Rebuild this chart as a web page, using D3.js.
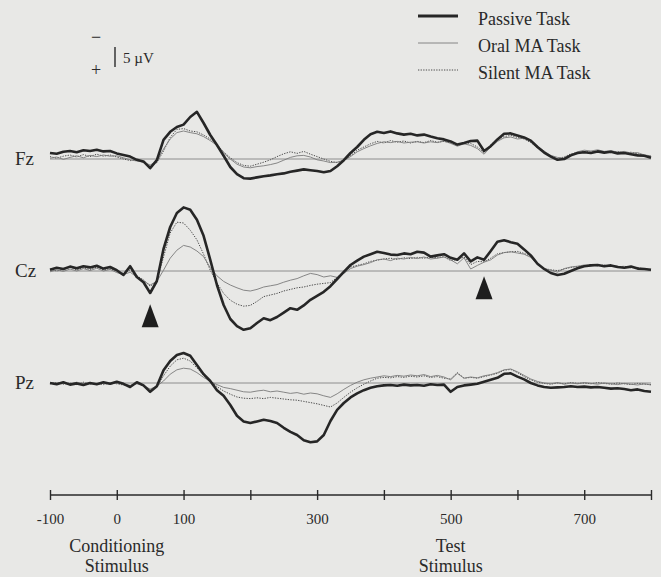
<!DOCTYPE html>
<html>
<head>
<meta charset="utf-8">
<script src="https://cdn.jsdelivr.net/npm/d3@7"></script>
<style>
  body { margin: 0; background: #e8e8e6; }
  svg text { font-family: "Liberation Serif", "DejaVu Serif", serif; fill: #2a2a2a; }
</style>
</head>
<body>
<div id="chart"></div>
<script>
// ERP waveforms, microvolts, sampled every 10 ms from -100 to 800 (negative is up)
let channels = ['Fz', 'Cz', 'Pz']
let conditions = ['Passive Task', 'Oral MA Task', 'Silent MA Task']

let fzPassive = [
  -1.5, -1.3, -1.8, -2.0, -1.7, -2.2, -2.0, -2.3, -1.9, -2.0,
  -1.4, -1.0, -0.6, 0.2, 0.6, 2.3, 0.3, -4.8, -6.8, -8.0,
  -8.6, -10.5, -11.8, -9.0, -6.0, -3.5, -0.8, 2.0, 3.8, 4.8,
  4.9, 4.6, 4.3, 4.1, 3.8, 3.6, 3.2, 2.9, 2.6, 2.8,
  3.0, 3.3, 3.0, 1.8, 0.3, -1.5, -3.0, -4.8, -6.2, -6.8,
  -6.5, -6.9, -6.4, -6.1, -6.3, -5.9, -6.1, -5.6, -5.2, -4.9,
  -4.4, -3.6, -4.0, -4.5, -4.6, -2.0, -3.2, -4.9, -6.3, -6.4,
  -5.9, -5.4, -4.6, -3.0, -1.6, -0.6, 0.2, 0.0, -0.9, -1.5,
  -1.7, -1.5, -1.9, -1.6, -1.8, -1.4, -1.5, -1.2, -0.9, -0.8,
  -0.3
]
let fzOral = [
  -0.2, -0.5, 0.1, -0.4, -0.8, -0.3, -0.9, -0.6, -1.0, -0.7,
  -0.8, -0.3, 0.2, 0.5, 0.8, 1.5, 0.6, -2.5, -5.0, -6.6,
  -7.0, -6.6, -6.3, -5.6, -4.6, -3.4, -1.5, 0.0, 1.3, 2.0,
  2.2, 1.9, 1.7, 1.4, 1.0, 0.3, -0.4, -0.8, -0.9, -0.5,
  0.2, 0.5, 0.9, 0.8, 0.3, -0.6, -1.8, -2.6, -3.3, -3.9,
  -4.3, -4.1, -4.4, -4.0, -4.2, -4.3, -4.0, -4.3, -4.1, -4.5,
  -3.9, -3.2, -3.8, -3.4, -2.6, -1.2, -3.0, -4.4, -5.3, -5.5,
  -5.0, -5.2, -4.4, -3.2, -2.0, -0.9, -0.4, -0.2, -1.0, -1.8,
  -2.2, -2.0, -2.3, -1.9, -2.1, -1.7, -1.9, -1.5, -1.6, -1.0,
  -0.8
]
let fzSilent = [
  -0.6, -0.2, -0.7, -1.0, -0.5, -1.1, -0.6, -1.2, -0.7, -1.0,
  -0.5, 0.0, 0.4, 0.2, 0.9, 1.8, 0.9, -2.0, -5.4, -7.4,
  -7.6, -7.0, -6.8, -6.0, -5.0, -3.6, -1.8, -0.3, 0.9, 1.6,
  1.8, 1.3, 0.8, 0.2, -0.6, -1.3, -1.8, -1.4, -1.9, -1.2,
  -0.6, 0.0, 0.6, 0.9, 0.4, -0.8, -2.2, -3.0, -3.8, -4.4,
  -4.0, -4.6, -4.2, -4.5, -4.0, -4.4, -4.1, -4.6, -4.2, -4.4,
  -4.0, -3.5, -4.1, -3.9, -3.0, -1.6, -3.6, -4.8, -5.6, -5.9,
  -5.4, -5.0, -4.1, -2.8, -1.7, -0.8, -0.1, -0.5, -1.3, -1.6,
  -1.9, -1.7, -2.0, -1.8, -1.6, -1.9, -1.4, -1.7, -1.3, -0.9,
  -0.6
]
let czPassive = [
  -0.3, -0.8, -0.5, -1.1, -0.7, -1.2, -0.9, -1.3, -0.6, -1.0,
  -0.2, 1.0, -1.2, 1.5, 2.8, 5.5, 2.5, -5.5, -11.0, -14.5,
  -15.9, -15.3, -12.8, -8.8, -2.8, 3.5, 8.5, 12.0, 13.8, 14.7,
  14.3, 13.0, 11.8, 12.3, 11.5, 10.4, 9.3, 9.7, 8.6, 7.2,
  6.2, 5.2, 3.8, 2.0, 0.2, -1.5, -2.6, -3.6, -4.2, -4.8,
  -4.5, -4.1, -4.0, -4.4, -4.2, -4.8, -4.6, -3.6, -3.9, -4.2,
  -3.3, -2.8, -4.4, -2.4, -3.4, -2.8, -5.0, -7.3, -7.7, -7.2,
  -6.8, -5.4, -3.9, -1.8, -0.5, 0.5, 1.0, 0.7, 0.0, -0.7,
  -1.2, -1.4, -1.5, -1.2, -1.4, -1.0, -0.8, -1.1, -0.6, -0.5,
  -0.3
]
let czOral = [
  0.2, -0.3, 0.1, -0.5, 0.0, -0.6, -0.1, -0.7, 0.0, -0.4,
  0.4, 0.9, 0.3, 1.5, 2.5, 3.5, 2.6, -0.2, -3.2, -5.2,
  -6.4, -6.0, -5.0, -3.6, -0.8, 1.2, 2.6, 3.5, 4.2, 4.8,
  5.0, 4.6, 4.0, 3.7, 3.4, 2.8, 2.3, 1.9, 1.2, 0.6,
  0.9, 1.5, 1.2, 1.6, 0.6, -0.6, -1.2, -1.6, -2.1, -2.8,
  -3.0, -2.6, -3.2, -3.0, -3.4, -3.1, -3.5, -3.0, -3.2, -3.5,
  -2.8, -1.8, -3.3, -0.5, -1.4, -2.2, -2.8, -4.0, -4.6, -4.8,
  -4.5, -4.2, -3.4, -1.6, -0.6, -0.2, 0.3, -0.6, -1.0, -1.2,
  -1.5, -1.3, -1.6, -1.1, -1.4, -1.2, -0.9, -1.0, -0.7, -0.5,
  -0.2
]
let czSilent = [
  -0.5, 0.0, -0.4, -0.9, -0.3, -0.8, -0.4, -1.0, -0.3, -0.6,
  0.1, 0.6, -0.3, 1.2, 2.2, 3.8, 2.6, -3.5, -9.5, -12.2,
  -12.0, -10.2, -7.8, -4.2, -0.2, 3.0, 5.6, 7.3, 8.3, 8.8,
  8.6, 7.6, 6.4, 6.0, 5.6, 5.0, 4.6, 4.2, 4.0, 3.6,
  3.3, 3.1, 2.9, 1.6, 0.2, -1.0, -1.4, -1.8, -2.4, -2.7,
  -3.0, -3.2, -2.9, -3.3, -3.1, -3.4, -3.2, -3.5, -3.3, -3.6,
  -2.6, -2.9, -3.5, -1.6, -2.4, -2.3, -3.2, -4.3, -4.6, -4.8,
  -4.9, -4.4, -3.6, -1.8, -0.6, -0.3, -0.1, -0.5, -0.9, -1.1,
  -1.3, -1.6, -1.3, -1.5, -1.2, -1.0, -1.2, -0.8, -0.9, -0.4,
  -0.3
]
let pzPassive = [
  0.0, 0.3, -0.2, 0.4, 0.1, 0.5, 0.0, 0.3, -0.2, 0.2,
  -0.3, 0.2, 1.0, -0.2, 0.6, 2.2, 0.8, -3.2, -5.5, -7.0,
  -7.5, -6.8, -4.5, -2.2, -0.5, 1.8, 3.2, 5.5, 8.2, 9.6,
  10.0, 9.6, 9.2, 9.5, 10.0, 11.2, 12.2, 13.0, 14.3, 14.8,
  14.6, 13.0, 9.5, 6.7, 5.0, 3.6, 2.6, 1.8, 1.2, 0.8,
  0.6, 0.5, 0.7, 0.4, 0.6, 0.5, 0.7, 0.3, 0.5, 0.4,
  2.2, 1.0, 0.6, 0.4, 0.2, -0.3, -0.8, -1.3, -2.3, -2.4,
  -1.6, -0.9, 0.0, 0.6, 1.0, 1.2, 1.1, 1.0, 0.8, 1.0,
  0.9, 1.1, 1.0, 1.2, 1.4, 1.3, 1.5, 1.8, 1.6, 2.0,
  2.2
]
let pzOral = [
  -0.1, 0.2, 0.0, 0.3, -0.2, 0.2, 0.1, 0.4, 0.0, 0.3,
  0.0, 0.3, 0.6, 0.2, 0.7, 1.5, 0.8, -0.5, -2.2, -3.3,
  -3.7, -3.5, -2.6, -1.4, -0.4, 0.4, 1.1, 1.4, 1.8, 2.2,
  2.3, 2.0, 1.8, 2.2, 2.0, 2.3, 2.6, 2.4, 2.8, 2.5,
  2.7, 3.2, 3.6, 2.7, 1.6, 0.6, -0.2, -0.8, -1.2, -1.5,
  -1.8, -1.6, -1.9, -1.7, -2.0, -1.8, -2.1, -1.6, -1.9, -1.5,
  -0.8, -2.4, -1.2, -1.5, -1.3, -1.8, -2.1, -2.6, -3.3, -3.5,
  -2.8, -1.9, -1.0, -0.4, 0.0, 0.2, -0.1, 0.3, 0.0, 0.2,
  -0.1, 0.1, 0.3, 0.0, 0.2, 0.4, 0.1, 0.3, 0.5, 0.2,
  0.5
]
let pzSilent = [
  0.2, -0.1, 0.3, 0.0, 0.4, -0.2, 0.3, 0.1, 0.4, 0.0,
  0.2, 0.5, 0.7, 0.1, 0.8, 1.8, 0.9, -1.8, -4.2, -5.8,
  -6.2, -5.5, -3.8, -1.9, -0.6, 0.9, 2.0, 2.8, 3.5, 3.8,
  3.9, 3.7, 3.9, 3.6, 3.8, 4.0, 4.2, 4.3, 4.6, 4.9,
  5.2, 5.6, 6.0, 5.0, 3.6, 2.3, 1.2, 0.3, -0.5, -1.2,
  -1.4, -1.3, -1.6, -1.4, -1.7, -1.5, -1.8, -1.4, -1.6, -1.2,
  -1.0, -2.6, -1.2, -1.4, -1.2, -1.6, -2.0, -2.4, -3.2, -3.4,
  -2.6, -1.6, -0.8, -0.2, 0.1, 0.3, 0.0, 0.2, -0.1, 0.1,
  0.0, 0.2, -0.1, 0.1, 0.3, 0.0, 0.2, 0.4, 0.1, 0.3,
  0.4
]

let tickValues = [-100, 0, 100, 200, 300, 400, 500, 600, 700, 800]
let tickLabels = [-100, 0, 100, 300, 500, 700]
let stimulusNames = ['Conditioning', 'Test']
let stimulusTimes = [0, 500]
let markerTimes = [50, 550]
let markerLevels = [8.3, 1.3]
let scaleBarMicrovolts = 5

let series = {
  Fz: [fzPassive, fzOral, fzSilent],
  Cz: [czPassive, czOral, czSilent],
  Pz: [pzPassive, pzOral, pzSilent]
}

let width = 661
let height = 577
let baselines = { Fz: 159, Cz: 271, Pz: 383 }
let styles = [
  { color: '#262626', width: 2.6, dash: null },
  { color: '#7a7a7a', width: 0.9, dash: null },
  { color: '#4a4a4a', width: 1, dash: '1.3,1.3' }
]

let svg = d3
  .select('#chart')
  .append('svg')
  .attr('width', width)
  .attr('height', height)

svg.append('rect').attr('width', width).attr('height', height).attr('fill', '#e8e8e6')

let times = d3.range(-100, 801, 10)
let xScale = d3.scaleLinear().domain([-100, 800]).range([50, 651])

// 4 px per microvolt, positive (down) from each channel's baseline
function yScaleFor(ch) {
  return d3.scaleLinear().domain([0, 5]).range([baselines[ch], baselines[ch] + 20])
}

channels.forEach(ch => {
  let y = yScaleFor(ch)
  let g = svg.append('g').attr('class', 'channel')

  g.append('line')
    .attr('x1', xScale(-100))
    .attr('x2', xScale(800))
    .attr('y1', y(0))
    .attr('y2', y(0))
    .attr('stroke', '#777')
    .attr('stroke-width', 0.8)

  let line = d3
    .line()
    .x((d, i) => xScale(times[i]))
    .y(d => y(d))

  // draw silent, oral, then passive on top
  ;[2, 1, 0].forEach(k => {
    let values = series[ch][k]
    if (values.length !== times.length) console.error(ch, k, values.length)
    g.append('path')
      .datum(values)
      .attr('d', line)
      .attr('fill', 'none')
      .attr('stroke', styles[k].color)
      .attr('stroke-width', styles[k].width)
      .attr('stroke-dasharray', styles[k].dash)
      .attr('stroke-linejoin', 'round')
  })

  g.append('text')
    .text(ch)
    .attr('x', 15)
    .attr('y', y(0) + 6)
    .attr('font-size', 19)
})

// P50 markers under Cz
let yCz = yScaleFor('Cz')
svg
  .selectAll('.marker')
  .data(markerTimes)
  .enter()
  .append('path')
  .attr('class', 'marker')
  .attr('d', (d, i) => {
    let x = xScale(d)
    let top = yCz(markerLevels[i])
    return `M${x},${top}L${x + 8.5},${top + 23}L${x - 8.5},${top + 23}Z`
  })
  .attr('fill', '#1e1e1e')

// time axis
let axis = d3
  .axisBottom(xScale)
  .tickValues(tickValues)
  .tickSize(10)
  .tickPadding(13)
  .tickFormat(d => (tickLabels.includes(d) ? String(d) : ''))

let gAxis = svg
  .append('g')
  .attr('transform', 'translate(0,490)')
  .style('color', '#2a2a2a')
  .call(axis)
  .attr('font-family', '"Liberation Serif", serif')
  .attr('font-size', 15)

gAxis.select('.domain').remove()
gAxis.selectAll('.tick line').attr('stroke-width', 1.4)

svg.append('line')
  .attr('x1', xScale(-100))
  .attr('x2', xScale(800))
  .attr('y1', 495)
  .attr('y2', 495)
  .attr('stroke', '#2a2a2a')
  .attr('stroke-width', 1.6)

stimulusNames.forEach((name, i) => {
  let t = svg.append('text')
    .attr('text-anchor', 'middle')
    .attr('font-size', 18)
  t.append('tspan').attr('x', xScale(stimulusTimes[i])).attr('y', 552).text(name)
  t.append('tspan').attr('x', xScale(stimulusTimes[i])).attr('y', 572).text('Stimulus')
})

// polarity / scale bar
let yFz = yScaleFor('Fz')
let barLen = yFz(scaleBarMicrovolts) - yFz(0)
svg.append('line')
  .attr('x1', 115).attr('x2', 115)
  .attr('y1', 47).attr('y2', 47 + barLen)
  .attr('stroke', '#2a2a2a')
  .attr('stroke-width', 1.4)
svg.append('text').text('\u2212').attr('x', 96).attr('y', 43).attr('text-anchor', 'middle').attr('font-size', 18)
svg.append('text').text('+').attr('x', 96).attr('y', 76).attr('text-anchor', 'middle').attr('font-size', 18)
svg.append('text').text(scaleBarMicrovolts + ' \u00b5V').attr('x', 123).attr('y', 63).attr('font-size', 15)

// legend
let legendY = [16, 43, 70]
conditions.forEach((c, i) => {
  svg.append('line')
    .attr('x1', 418).attr('x2', 458)
    .attr('y1', legendY[i]).attr('y2', legendY[i])
    .attr('stroke', styles[i].color)
    .attr('stroke-width', i === 0 ? 3 : styles[i].width)
    .attr('stroke-dasharray', styles[i].dash)
  svg.append('text')
    .text(c)
    .attr('x', 478)
    .attr('y', legendY[i] + 9)
    .attr('font-size', 18)
})
</script>
</body>
</html>
